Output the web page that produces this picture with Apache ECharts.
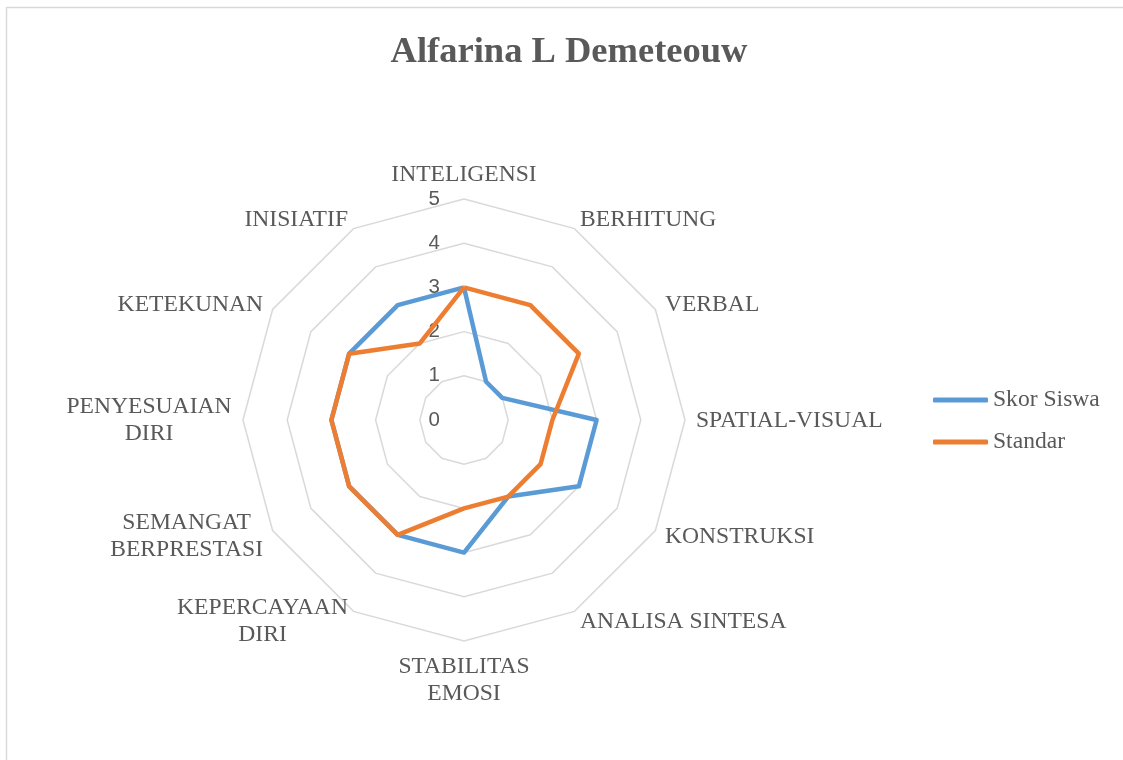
<!DOCTYPE html>
<html><head><meta charset="utf-8">
<script src="https://cdn.jsdelivr.net/npm/echarts@6/dist/echarts.min.js"></script>
<style>html,body{margin:0;padding:0;background:#fff}#c{width:1123px;height:760px}</style>
</head><body><div id="c"></div>
<script>
// Data (clockwise from top, as in the reference)
const categories = ['INTELIGENSI','BERHITUNG','VERBAL','SPATIAL-VISUAL','KONSTRUKSI','ANALISA SINTESA','STABILITAS\nEMOSI','KEPERCAYAAN\nDIRI','SEMANGAT\nBERPRESTASI','PENYESUAIAN\nDIRI','KETEKUNAN','INISIATIF'];
const skorSiswa = [3,1,1,3,3,2,3,3,3,3,3,3];
const standar   = [3,3,3,2,2,2,2,3,3,3,3,2];
const seriesNames = ['Skor Siswa','Standar'];
const scaleMin = 0, scaleMax = 5, scaleStep = 1;

const TXT = '#595959';
const SERIF = '"Liberation Serif","Times New Roman",serif';
const NAME_SIZE = 23.6;

// ECharts radar runs counter-clockwise: reorder so the picture runs clockwise
const order = categories.map((_, i) => (i === 0 ? 0 : categories.length - i));
const cats = order.map(i => categories[i]);
const vSkor = order.map(i => skorSiswa[i]);
const vStd = order.map(i => standar[i]);

// centred multi-line names
const ctx = document.createElement('canvas').getContext('2d');
ctx.font = NAME_SIZE + 'px ' + SERIF;
const rich = {};
const nameKey = {};
cats.forEach((c, k) => {
  if (c.indexOf('\n') >= 0) {
    const w = Math.max(...c.split('\n').map(l => ctx.measureText(l).width));
    const key = 'n' + k;
    rich[key] = { width: Math.ceil(w), align: 'center', fontFamily: SERIF, fontSize: NAME_SIZE, color: TXT, lineHeight: 27 };
    nameKey[c] = key;
  }
});

const chart = echarts.init(document.getElementById('c'), null, { renderer: 'canvas' });
chart.setOption({
  animation: false,
  backgroundColor: '#ffffff',
  title: {
    text: 'Alfarina L Demeteouw',
    left: 564, top: 29, textAlign: 'center',
    textStyle: { fontFamily: SERIF, fontWeight: 'bold', fontSize: 36.5, color: TXT }
  },
  graphic: [{
    type: 'rect', shape: { x: 6.5, y: 7.5, width: 1300, height: 1000 },
    style: { fill: 'none', stroke: '#D9D9D9', lineWidth: 1.5 }, silent: true, z: -10
  }],
  legend: {
    orient: 'vertical', left: 933, top: 388, padding: 0,
    itemWidth: 55, itemHeight: 5, itemGap: 18, icon: 'roundRect',
    data: seriesNames,
    textStyle: { fontFamily: SERIF, fontSize: 23.6, color: TXT }
  },
  radar: {
    center: [464, 420], radius: 221, startAngle: 90,
    shape: 'polygon', splitNumber: (scaleMax - scaleMin) / scaleStep,
    indicator: cats.map(c => ({ name: c, min: scaleMin, max: scaleMax })),
    nameGap: 11,
    axisName: {
      color: TXT, fontFamily: SERIF, fontSize: NAME_SIZE, lineHeight: 27, padding: [1, 0, 0, 0],
      formatter: (name) => nameKey[name] ? name.split('\n').map(l => '{' + nameKey[name] + '|' + l + '}').join('\n') : name,
      rich: rich
    },
    axisLine: { show: false },
    axisTick: { show: false },
    axisLabel: { show: false },
    splitLine: { lineStyle: { color: '#D9D9D9', width: 1.5 } },
    splitArea: { show: false }
  },
  polar: { center: [464, 420], radius: 221 },
  angleAxis: { type: 'value', min: 0, max: 360, startAngle: 90, show: false },
  radiusAxis: {
    type: 'value', min: scaleMin, max: scaleMax, interval: scaleStep,
    axisLine: { show: false }, axisTick: { show: false }, splitLine: { show: false },
    axisLabel: { show: true, margin: 24, padding: [4, 0, 0, 0], color: TXT, fontFamily: '"Liberation Sans",Arial,sans-serif', fontSize: 20.5 }
  },
  series: [{
    type: 'radar', symbol: 'none', z: 5,
    data: [
      { name: seriesNames[0], value: vSkor, lineStyle: { color: '#5B9BD5', width: 4.5 }, itemStyle: { color: '#5B9BD5' } },
      { name: seriesNames[1], value: vStd, lineStyle: { color: '#ED7D31', width: 4.5 }, itemStyle: { color: '#ED7D31' } }
    ]
  }]
});
</script></body></html>
